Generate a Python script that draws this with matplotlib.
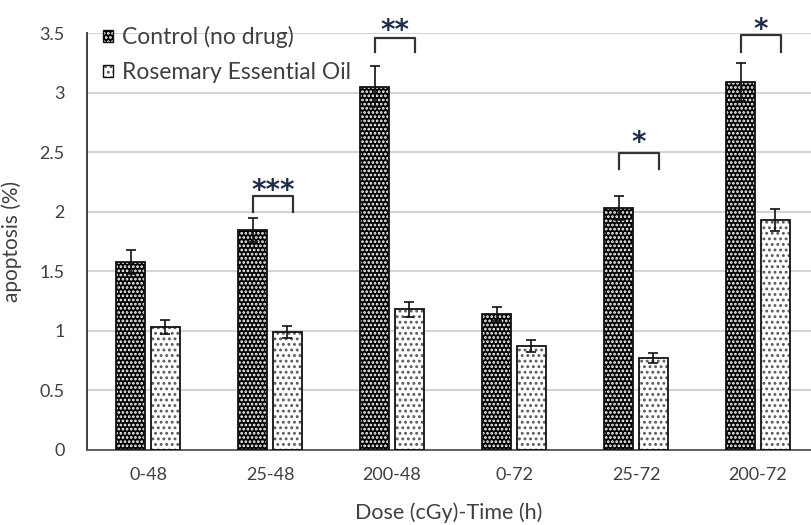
import matplotlib
matplotlib.use("Agg")
import matplotlib.pyplot as plt
from matplotlib.patches import Patch
import numpy as np

groups = ['0-48', '25-48', '200-48', '0-72', '25-72', '200-72']
control = [1.58, 1.85, 3.05, 1.14, 2.03, 3.09]
control_err = [0.10, 0.10, 0.17, 0.06, 0.10, 0.16]
rosemary = [1.03, 0.99, 1.18, 0.87, 0.77, 1.93]
rosemary_err = [0.06, 0.05, 0.06, 0.05, 0.04, 0.09]
series_names = ['Control (no drug)', 'Rosemary Essential Oil']
yticks = [0, 0.5, 1, 1.5, 2, 2.5, 3, 3.5]
ytick_labels = ['0', '0.5', '1', '1.5', '2', '2.5', '3', '3.5']

sig_groups = [1, 2, 4, 5]
sig_labels = ['***', '**', '*', '*']
bracket_top = [2.13, 3.46, 2.49, 3.48]
bracket_leg = [2.00, 3.34, 2.36, 3.34]
star_y = [2.25, 3.59, 2.65, 3.60]

FONT = ['Lato', 'DejaVu Sans']
plt.rcParams['font.family'] = FONT
plt.rcParams['hatch.linewidth'] = 1.3
TXT = '#404040'
ROSE_DOT = '#5a5a5a'

fig = plt.figure(figsize=(8.11, 5.25), dpi=100)
ax = fig.add_axes([87/811, 75/525, 1 - 87/811, (450-33)/525])

x = np.arange(len(groups))
w = 0.245
off = 0.143

# control bars: black with white dots
ax.bar(x - off, control, w, color='black', edgecolor='white', hatch='....', linewidth=0, zorder=2)
ax.bar(x - off, control, w, fill=False, edgecolor='#111111', linewidth=1.3, zorder=3)
# rosemary bars: white with black dots
ax.bar(x + off, rosemary, w, color='white', edgecolor=ROSE_DOT, hatch='...', linewidth=0, zorder=2)
ax.bar(x + off, rosemary, w, fill=False, edgecolor='#111111', linewidth=1.3, zorder=3)

ax.errorbar(x - off, control, yerr=control_err, fmt='none', ecolor='#111111', elinewidth=1.2, capsize=3.8, capthick=1.2, zorder=4)
ax.errorbar(x + off, rosemary, yerr=rosemary_err, fmt='none', ecolor='#111111', elinewidth=1.2, capsize=3.8, capthick=1.2, zorder=4)

for g, lab, bt, bl, sy in zip(sig_groups, sig_labels, bracket_top, bracket_leg, star_y):
    x0, x1 = g - 0.14, g + 0.19
    ax.plot([x0, x0, x1, x1], [bl, bt, bt, bl], color='#333333', lw=1.6, clip_on=False, zorder=5)
    ax.annotate(lab, ((x0 + x1) / 2, sy), xytext=(0, -6.5), textcoords='offset points',
                ha='center', va='center', fontsize=20, fontweight='bold',
                color='#1f2d4a', family=['DejaVu Sans'], annotation_clip=False, zorder=5)

ax.set_xlim(-0.5, (811 - 148) / 122)
ax.set_ylim(0, 3.5)
ax.set_yticks(yticks)
ax.set_yticklabels(ytick_labels)
ax.set_xticks(x)
ax.set_xticklabels(groups)
ax.tick_params(axis='both', length=0, labelsize=13, colors=TXT)
ax.tick_params(axis='y', pad=16)
ax.tick_params(axis='x', pad=12)
ax.yaxis.grid(True, color='#d4d4d4', linewidth=1.5, zorder=0)
ax.set_axisbelow(True)
for s in ['top', 'right']:
    ax.spines[s].set_visible(False)
ax.spines['left'].set_color('#333333')
ax.spines['bottom'].set_color('#555555')
ax.spines['left'].set_linewidth(1.3)
ax.spines['bottom'].set_linewidth(1.3)

ax.set_ylabel('apoptosis (%)', fontsize=15, color=TXT)
ax.yaxis.set_label_coords(-(87-22)/724, 0.5)
ax.set_xlabel('Dose (cGy)-Time (h)', fontsize=15.5, color=TXT)
ax.xaxis.set_label_coords(0.5, -(502-450)/417)

h1 = (Patch(facecolor='black', edgecolor='white', hatch='....', linewidth=0),
      Patch(fill=False, edgecolor='#111111', linewidth=1.0))
h2 = (Patch(facecolor='white', edgecolor=ROSE_DOT, hatch='...', linewidth=0),
      Patch(fill=False, edgecolor='#111111', linewidth=1.0))
leg = ax.legend([h1, h2], series_names, loc='upper left',
                bbox_to_anchor=(103/811, 1 - 26/525), bbox_transform=fig.transFigure,
                frameon=False, fontsize=16.5, handlelength=0.44, handleheight=0.44,
                handletextpad=0.4, labelspacing=0.6, borderpad=0, borderaxespad=0)
for t in leg.get_texts():
    t.set_color(TXT)

fig.savefig('out.png', dpi=100)
